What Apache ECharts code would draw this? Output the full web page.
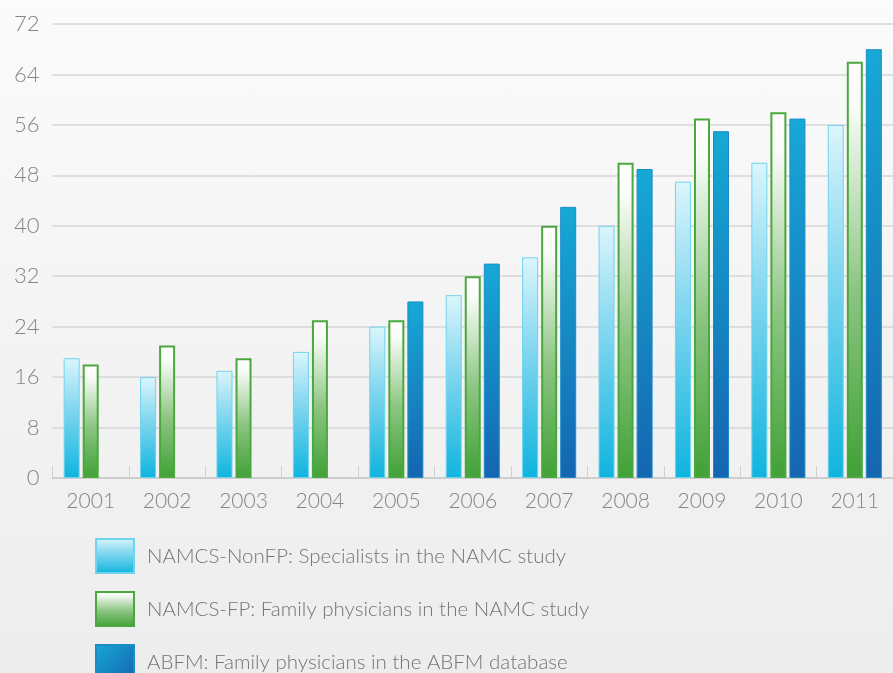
<!DOCTYPE html>
<html>
<head>
<meta charset="utf-8">
<script src="https://cdn.jsdelivr.net/npm/echarts@6/dist/echarts.min.js"></script>
<style>
  html, body { margin: 0; padding: 0; }
  #chart {
    width: 893px; height: 673px;
    background: linear-gradient(to bottom, #fbfbfb 0%, #f2f2f2 60%, #ededed 100%);
  }
</style>
</head>
<body>
<div id="chart"></div>
<script>
var years = ["2001", "2002", "2003", "2004", "2005", "2006", "2007", "2008", "2009", "2010", "2011"];
var nonFP = [19, 16, 17, 20, 24, 29, 35, 40, 47, 50, 56];
var famFP = [18, 21, 19, 25, 25, 32, 40, 50, 57, 58, 66];
var abfm = [null, null, null, null, 28, 34, 43, 49, 55, 57, 68];
var yTicks = [0, 8, 16, 24, 32, 40, 48, 56, 64, 72];
var seriesNames = [
  "NAMCS-NonFP: Specialists in the NAMC study",
  "NAMCS-FP: Family physicians in the NAMC study",
  "ABFM: Family physicians in the ABFM database"
];

var chart = echarts.init(document.getElementById("chart"));

// 3D-ish fills for the three series
var cyanFill = new echarts.graphic.LinearGradient(0, 0, 0, 1, [
  { offset: 0, color: "#dcf5fc" },
  { offset: 0.4, color: "#86d8f0" },
  { offset: 1, color: "#0fb4de" }
]);
var greenFill = new echarts.graphic.LinearGradient(0, 0, 0, 1, [
  { offset: 0, color: "#ffffff" },
  { offset: 0.1, color: "#fbfdfa" },
  { offset: 0.55, color: "#8cc582" },
  { offset: 1, color: "#40a136" }
]);
var blueFill = new echarts.graphic.LinearGradient(0, 0, 1, 1, [
  { offset: 0, color: "#16a9d6" },
  { offset: 1, color: "#1565b0" }
]);

var fontFam = "Lato, 'Open Sans', sans-serif";

chart.setOption({
  animation: false,
  textStyle: { fontFamily: fontFam },
  grid: { left: 52.5, right: -10, top: 24, bottom: 195 },
  legend: {
    orient: "vertical",
    left: 90,
    top: 533,
    height: 200,
    itemWidth: 38,
    itemHeight: 34,
    itemGap: 17,
    textStyle: {
      fontSize: 20.5, color: "#747474", fontWeight: 300, fontFamily: fontFam,
      padding: [0, 0, 0, 8]
    },
    data: [
      { name: seriesNames[0], icon: "rect" },
      { name: seriesNames[1], icon: "rect" },
      { name: seriesNames[2], icon: "rect" }
    ]
  },
  xAxis: {
    type: "category",
    data: years,
    axisLine: { lineStyle: { color: "#c8c8c8", width: 1.5 } },
    axisTick: { show: true, inside: true, length: 12, lineStyle: { color: "#d0d0d0" } },
    axisLabel: { fontSize: 21, color: "#858585", margin: 13, fontWeight: 300 }
  },
  yAxis: {
    type: "value",
    min: yTicks[0],
    max: yTicks[yTicks.length - 1],
    interval: 8,
    axisLine: { show: false },
    axisTick: { show: false },
    axisLabel: { fontSize: 22, color: "#858585", margin: 13, fontWeight: 300 },
    splitLine: { lineStyle: { color: "#d6d6d6", width: 1.5 } }
  },
  series: [
    {
      name: seriesNames[0], type: "bar", data: nonFP,
      barWidth: 16, barGap: "19%",
      itemStyle: { color: cyanFill, borderColor: "#6fd3ee", borderWidth: 1 }
    },
    {
      name: seriesNames[1], type: "bar", data: famFP,
      barWidth: 16, barGap: "19%",
      itemStyle: { color: greenFill, borderColor: "#4aa83f", borderWidth: 2 }
    },
    {
      name: seriesNames[2], type: "bar", data: abfm,
      barWidth: 16, barGap: "19%",
      itemStyle: { color: blueFill, borderColor: "#1b8cc8", borderWidth: 1 }
    }
  ]
});

window.onresize = function() {
  chart.resize();
};
</script>
</body>
</html>
